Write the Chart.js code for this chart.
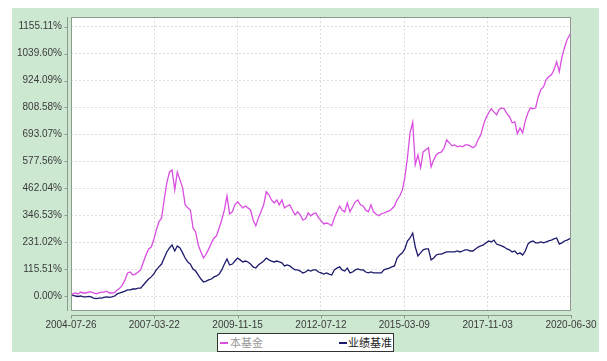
<!DOCTYPE html>
<html>
<head>
<meta charset="utf-8">
<script src="https://cdn.jsdelivr.net/npm/chart.js@4.4.1/dist/chart.umd.min.js"></script>
<style>
  html, body { margin: 0; padding: 0; background: #ffffff; }
  #wrap { position: absolute; left: 12px; top: 8px; width: 587px; height: 344px; background: #cde8d1; }
  #c { position: absolute; left: 0; top: 0; }
  #legend { position: absolute; left: 205px; top: 325px; width: 175px; height: 17px; background: #fff;
            border: 1px solid #333; font: 11px "Noto Sans CJK SC", sans-serif; color: #222; white-space: nowrap; }
  #legend .ln { position: absolute; top: 8px; width: 8px; height: 2px; }
  #legend .tx { position: absolute; top: 0px; line-height: 17px; }
</style>
</head>
<body>
<div id="wrap">
  <canvas id="c" width="587" height="344"></canvas>
  <div id="legend">
    <span class="ln" style="left:2px;background:#d94ee0"></span>
    <span class="tx" style="left:12px;color:#999">本基金</span>
    <span class="ln" style="left:121px;background:#1c1a6c"></span>
    <span class="tx" style="left:130px">业绩基准</span>
  </div>
</div>
<script>
// ---- data ----
const monthDates = [
  "2004-07-26","2004-08-15","2004-09-15","2004-10-15","2004-11-15","2004-12-15",
  "2005-01-15","2005-02-15","2005-03-15","2005-04-15","2005-05-15","2005-06-15","2005-07-15","2005-08-15","2005-09-15","2005-10-15","2005-11-15","2005-12-15",
  "2006-01-15","2006-02-15","2006-03-15","2006-04-15","2006-05-15","2006-06-15","2006-07-15","2006-08-15","2006-09-15","2006-10-15","2006-11-15","2006-12-15",
  "2007-01-15","2007-02-15","2007-03-15","2007-04-15","2007-05-15","2007-06-15","2007-07-15","2007-08-15","2007-09-15","2007-10-15","2007-11-15","2007-12-15",
  "2008-01-15","2008-02-15","2008-03-15","2008-04-15","2008-05-15","2008-06-15","2008-07-15","2008-08-15","2008-09-15","2008-10-15","2008-11-15","2008-12-15",
  "2009-01-15","2009-02-15","2009-03-15","2009-04-15","2009-05-15","2009-06-15","2009-07-15","2009-08-15","2009-09-15","2009-10-15","2009-11-15","2009-12-15",
  "2010-01-15","2010-02-15","2010-03-15","2010-04-15","2010-05-15","2010-06-15","2010-07-15","2010-08-15","2010-09-15","2010-10-15","2010-11-15","2010-12-15",
  "2011-01-15","2011-02-15","2011-03-15","2011-04-15","2011-05-15","2011-06-15","2011-07-15","2011-08-15","2011-09-15","2011-10-15","2011-11-15","2011-12-15",
  "2012-01-15","2012-02-15","2012-03-15","2012-04-15","2012-05-15","2012-06-15","2012-07-15","2012-08-15","2012-09-15","2012-10-15","2012-11-15","2012-12-15",
  "2013-01-15","2013-02-15","2013-03-15","2013-04-15","2013-05-15","2013-06-15","2013-07-15","2013-08-15","2013-09-15","2013-10-15","2013-11-15","2013-12-15",
  "2014-01-15","2014-02-15","2014-03-15","2014-04-15","2014-05-15","2014-06-15","2014-07-15","2014-08-15","2014-09-15","2014-10-15","2014-11-15","2014-12-15",
  "2015-01-15","2015-02-15","2015-03-15","2015-04-15","2015-05-15","2015-06-15","2015-07-15","2015-08-15","2015-09-15","2015-10-15","2015-11-15","2015-12-15",
  "2016-01-15","2016-02-15","2016-03-15","2016-04-15","2016-05-15","2016-06-15","2016-07-15","2016-08-15","2016-09-15","2016-10-15","2016-11-15","2016-12-15",
  "2017-01-15","2017-02-15","2017-03-15","2017-04-15","2017-05-15","2017-06-15","2017-07-15","2017-08-15","2017-09-15","2017-10-15","2017-11-15","2017-12-15",
  "2018-01-15","2018-02-15","2018-03-15","2018-04-15","2018-05-15","2018-06-15","2018-07-15","2018-08-15","2018-09-15","2018-10-15","2018-11-15","2018-12-15",
  "2019-01-15","2019-02-15","2019-03-15","2019-04-15","2019-05-15","2019-06-15","2019-07-15","2019-08-15","2019-09-15","2019-10-15","2019-11-15","2019-12-15",
  "2020-01-15","2020-02-15","2020-03-15","2020-04-15","2020-05-15","2020-06-30"
];

const fundReturn = [
  4, 9, 13, 9, 17, 13,
  13, 17, 18, 13, 9, 13, 17, 17, 21, 13, 13, 14,
  26, 34, 47, 69, 99, 103, 90, 94, 103, 112, 146, 176,
  202, 210, 240, 283, 318, 335, 412, 485, 532, 541, 455, 532,
  498, 464, 391, 378, 369, 292, 275, 219, 189, 163, 180, 202,
  228, 249, 258, 292, 326, 369, 429, 352, 361, 391, 404, 391,
  378, 386, 378, 369, 326, 301, 335, 361, 391, 447, 434, 412,
  399, 412, 391, 412, 378, 386, 391, 369, 348, 361, 348, 326,
  331, 356, 344, 352, 356, 335, 322, 309, 313, 309, 301, 335,
  361, 386, 369, 361, 399, 361, 382, 404, 412, 391, 386, 369,
  361, 391, 361, 352, 344, 352, 356, 361, 365, 374, 386, 412,
  429, 455, 507, 593, 700, 745, 563, 605, 550, 618, 627, 636,
  554, 584, 605, 614, 618, 636, 670, 657, 644, 648, 640, 644,
  640, 648, 648, 644, 636, 644, 670, 691, 734, 764, 786, 803,
  790, 777, 799, 807, 803, 782, 769, 743, 747, 696, 721, 700,
  751, 786, 807, 803, 807, 855, 885, 897, 928, 940, 949, 970,
  1005, 962, 1022, 1065, 1099, 1129
];

const benchmarkReturn = [
  4, 4, 0, -2, 0, -4,
  -4, -2, -4, -9, -11, -9, -9, -6, -4, -6, -4, 0,
  9, 13, 17, 21, 26, 26, 30, 30, 34, 34, 47, 60,
  73, 82, 94, 112, 125, 137, 163, 189, 206, 219, 193, 215,
  206, 185, 163, 146, 137, 116, 107, 90, 73, 60, 64, 69,
  73, 82, 86, 94, 112, 137, 159, 133, 137, 150, 163, 155,
  146, 150, 146, 137, 125, 120, 133, 142, 150, 163, 155, 150,
  146, 150, 146, 142, 129, 133, 129, 120, 112, 112, 107, 99,
  103, 112, 107, 112, 112, 103, 99, 94, 99, 94, 90, 112,
  120, 125, 112, 107, 120, 99, 103, 112, 116, 112, 112, 103,
  99, 103, 99, 99, 99, 99, 112, 116, 120, 125, 129, 163,
  176, 185, 202, 236, 249, 270, 210, 172, 185, 198, 202, 202,
  155, 163, 176, 180, 180, 185, 189, 189, 189, 189, 193, 189,
  193, 198, 198, 193, 193, 202, 210, 215, 219, 228, 236, 232,
  240, 223, 219, 215, 210, 202, 198, 189, 193, 180, 185, 176,
  193, 223, 232, 236, 228, 228, 232, 228, 232, 236, 240, 245,
  249, 223, 228, 236, 240, 249
];

const xTickLabels = ["2004-07-26","2007-03-22","2009-11-15","2012-07-12","2015-03-09","2017-11-03","2020-06-30"];
const yTickValues = [0, 115.511, 231.022, 346.533, 462.044, 577.555, 693.066, 808.577, 924.088, 1039.599, 1155.11];
const yTickLabels = ["0.00%","115.51%","231.02%","346.53%","462.04%","577.56%","693.07%","808.58%","924.09%","1039.60%","1155.11%"];

// ---- helpers ----
const t0 = Date.UTC(2004, 6, 26);
function dayOf(s) { const p = s.split('-').map(Number); return (Date.UTC(p[0], p[1] - 1, p[2]) - t0) / 86400000; }
function toPts(vals) { return vals.map((v, i) => ({ x: dayOf(monthDates[i]), y: v })); }
const xTickDays = xTickLabels.map(dayOf);

const frame = {
  id: 'frame',
  beforeDraw(chart) {
    const { ctx, chartArea: a } = chart;
    ctx.save();
    ctx.fillStyle = '#ffffff';
    ctx.fillRect(a.left, a.top, a.right - a.left, a.bottom - a.top);
    ctx.restore();
  },
  afterDraw(chart) {
    const { ctx, chartArea: a } = chart;
    ctx.save();
    ctx.strokeStyle = '#8f9a8f';
    ctx.lineWidth = 1;
    ctx.strokeRect(a.left + 0.5, a.top + 0.5, a.right - a.left - 1, a.bottom - a.top - 1);
    ctx.beginPath();
    const ax = a.left - 3.5;
    ctx.moveTo(ax, a.top); ctx.lineTo(ax, a.bottom);
    const ys = chart.scales.y;
    yTickValues.forEach(v => { const y = Math.round(ys.getPixelForValue(v)) + 0.5; ctx.moveTo(ax - 3, y); ctx.lineTo(ax, y); });
    const ay = a.bottom + 4.5;
    ctx.moveTo(a.left, ay); ctx.lineTo(a.right + 1, ay);
    const xs = chart.scales.x;
    xTickDays.forEach(d => { const x = Math.round(xs.getPixelForValue(d)) + 0.5; ctx.moveTo(x, ay); ctx.lineTo(x, ay + 3); });
    ctx.stroke();
    ctx.restore();
  }
};

new Chart(document.getElementById('c'), {
  type: 'line',
  data: {
    datasets: [
      { label: '本基金', data: toPts(fundReturn), borderColor: '#d94ee0', borderWidth: 1.3, pointRadius: 0, tension: 0 },
      { label: '业绩基准', data: toPts(benchmarkReturn), borderColor: '#1c1a6c', borderWidth: 1.3, pointRadius: 0, tension: 0 }
    ]
  },
  options: {
    responsive: false,
    animation: false,
    layout: { padding: { left: 0, top: 9, right: 28, bottom: 0 } },
    plugins: { legend: { display: false }, tooltip: { enabled: false } },
    scales: {
      x: {
        type: 'linear',
        min: 0,
        max: dayOf("2020-06-30"),
        afterBuildTicks: s => { s.ticks = xTickDays.map(v => ({ value: v })); },
        afterFit: s => { s.height = 41; },
        ticks: {
          autoSkip: false, maxRotation: 0, padding: 2,
          color: '#3a3a3a', font: { family: 'Liberation Sans', size: 10 },
          callback: (v) => { const i = xTickDays.indexOf(v); return i >= 0 ? xTickLabels[i] : ''; }
        },
        grid: { color: '#dddddd', drawTicks: true, tickLength: 6, tickColor: 'rgba(0,0,0,0)' },
        border: { display: false, dash: [2, 2] }
      },
      y: {
        min: -64.3,
        max: 1196.7,
        afterBuildTicks: s => { s.ticks = yTickValues.map(v => ({ value: v })); },
        afterFit: s => { s.width = 59; },
        ticks: {
          padding: 2,
          color: '#3a3a3a', font: { family: 'Liberation Sans', size: 10 },
          callback: (v) => { const i = yTickValues.indexOf(v); return i >= 0 ? yTickLabels[i] : ''; }
        },
        grid: { color: '#dddddd', drawTicks: true, tickLength: 7, tickColor: 'rgba(0,0,0,0)' },
        border: { display: false, dash: [2, 2] }
      }
    }
  },
  plugins: [frame]
});
</script>
</body>
</html>
